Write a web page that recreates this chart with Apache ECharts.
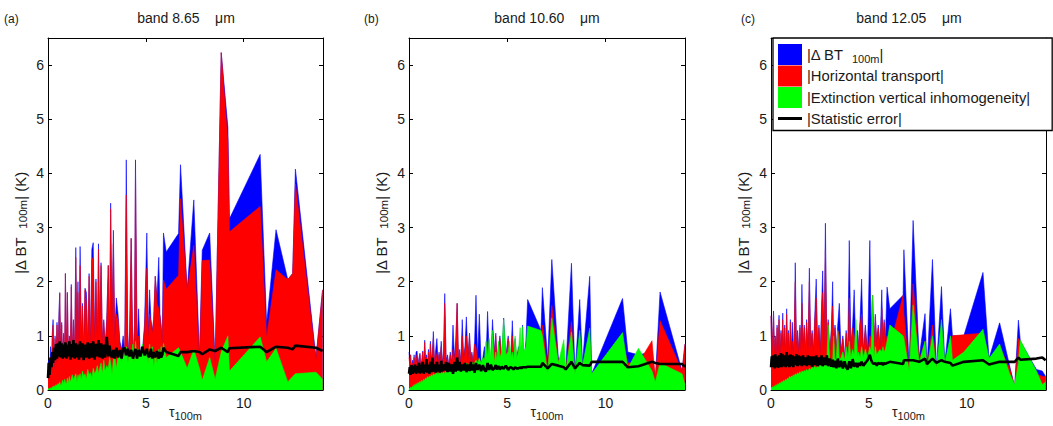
<!DOCTYPE html>
<html><head><meta charset="utf-8">
<script src="https://cdn.jsdelivr.net/npm/echarts/dist/echarts.min.js"></script>
<style>html,body{margin:0;padding:0;background:#fff}#c{width:1053px;height:426px}</style>
</head><body><div id="c"></div>
<script>
// ---------- DATA ----------
const xTicks = [0, 5, 10];
const yTicks = [0, 1, 2, 3, 4, 5, 6];
const panelLetters = ['(a)', '(b)', '(c)'];
const bandTitles = ['band 8.65\u00a0\u00a0\u00a0\u00a0μm', 'band 10.60\u00a0\u00a0\u00a0\u00a0μm', 'band 12.05\u00a0\u00a0\u00a0\u00a0μm'];
const seriesNames = ['dbt', 'ht', 'evi', 'se'];

// dense tau grid (shared by the three bands)
const tauDense = [
 0.00,0.04,0.08,0.13,0.18,0.22,0.26,0.31,0.36,0.41,
 0.46,0.51,0.56,0.60,0.65,0.70,0.75,0.80,0.85,0.89,
 0.94,0.99,1.04,1.09,1.14,1.19,1.24,1.30,1.36,1.42,
 1.48,1.53,1.58,1.64,1.70,1.76,1.82,1.89,1.96,2.03,
 2.10,2.17,2.24,2.31,2.38,2.45,2.52,2.58,2.64,2.71,
 2.78,2.85,2.92,3.00,3.08,3.15,3.20,3.27,3.34,3.41,
 3.49,3.58,3.67,3.76,3.84,3.92,4.00,4.08,4.17,4.25,
 4.34,4.42,4.47,4.55,4.63,4.72,4.82,4.93,5.05,5.12,
 5.19,5.26,5.33,5.40,5.48,5.57,5.66,5.72,5.78,5.84];

// ----- band 8.65 (a) -----
const dbtA = [
 0.45,0.55,0.3,0.8,0.35,1.05,1.3,0.4,1.0,0.5,
 1.25,0.55,1.45,1.8,0.6,1.25,0.55,1.05,0.6,2.15,
 0.6,1.8,0.65,1.0,0.6,1.95,0.7,1.3,0.65,2.63,
 0.8,2.0,0.7,2.65,0.9,1.6,0.7,1.88,1.8,0.75,
 2.15,0.8,2.6,2.72,0.9,2.05,0.8,2.7,1.1,2.35,
 0.9,1.3,0.8,1.3,2.3,0.9,3.45,1.2,2.95,1.0,
 1.7,1.4,0.9,0.75,1.0,0.7,4.25,0.6,1.1,2.8,
 0.5,1.2,4.25,0.8,1.5,0.55,0.7,1.2,2.9,1.0,
 1.85,1.3,1.1,1.3,2.1,1.7,2.45,1.4,1.2,0.9];
const htA = [
 0.45,0.2,0.25,0.6,0.3,1.0,1.2,0.35,0.95,0.45,
 1.2,0.5,1.2,1.78,0.55,1.2,0.5,1.0,0.55,2.15,
 0.55,1.8,0.6,0.95,0.55,1.9,0.65,1.25,0.6,2.45,
 0.7,1.8,0.65,2.3,0.85,1.55,0.6,1.85,1.6,0.7,
 2.1,0.75,2.4,2.45,0.85,2.0,0.75,2.6,1.0,2.3,
 0.85,1.25,0.75,1.25,2.3,0.85,3.35,1.1,2.7,0.9,
 1.4,1.3,0.85,0.7,0.6,0.65,3.6,0.55,1.0,2.8,
 0.45,1.1,4.0,0.75,1.0,0.5,0.65,1.1,2.25,0.95,
 1.4,1.25,1.05,1.3,2.1,1.6,1.5,1.35,1.1,0.85];
const eviA = [
 0.02,0.03,0.02,0.04,0.03,0.06,0.05,0.08,0.05,0.1,
 0.08,0.12,0.1,0.15,0.08,0.12,0.18,0.1,0.2,0.15,
 0.1,0.22,0.12,0.25,0.15,0.2,0.28,0.18,0.25,0.3,
 0.15,0.28,0.22,0.3,0.18,0.35,0.25,0.3,0.2,0.38,
 0.28,0.32,0.22,0.4,0.3,0.35,0.45,0.3,0.4,0.5,
 0.3,0.55,0.35,0.45,0.4,0.6,0.5,0.3,0.55,0.65,
 0.4,0.6,0.7,0.5,0.75,0.6,0.8,0.5,0.75,0.6,
 0.85,0.5,0.9,0.55,0.75,0.6,0.85,0.6,0.75,0.5,
 0.85,0.55,0.8,0.4,0.7,0.5,0.75,0.55,0.8,0.6];
const seA = [
 0.22,0.5,0.28,0.6,0.42,0.7,0.5,0.78,0.55,0.85,
 0.58,0.86,0.62,0.9,0.6,0.86,0.58,0.84,0.6,0.88,
 0.58,0.84,0.62,0.9,0.56,0.85,0.6,0.92,0.58,0.86,
 0.6,0.84,0.56,0.9,0.6,0.86,0.55,0.84,0.6,0.88,
 0.58,0.86,0.6,0.9,0.56,0.85,0.62,0.92,0.6,0.86,
 0.58,0.84,0.6,0.98,0.62,0.82,0.66,0.6,0.74,0.58,
 0.78,0.6,0.74,0.58,0.76,0.78,0.64,0.76,0.62,0.74,
 0.58,0.7,0.76,0.58,0.74,0.62,0.8,0.64,0.76,0.62,
 0.62,0.76,0.58,0.7,0.6,0.72,0.58,0.7,0.6,0.65];
const tauSA = [5.90,6.04,6.67,6.77,7.11,7.45,7.74,7.88,8.26,8.54,8.85,9.19,9.27,10.84,11.17,11.65,12.25,12.50,12.64,13.69,14.03];
const dbtSA = [2.9,2.55,2.89,4.16,1.84,3.51,0.6,2.58,2.9,0.5,6.23,4.85,3.16,4.35,1.23,2.96,2.04,2.15,4.08,0.6,1.85];
const htSA  = [2.03,1.86,2.12,3.53,1.84,2.67,0.55,2.39,2.4,0.45,6.23,4.6,2.92,3.39,0.98,2.22,2.04,2.15,3.81,0.55,1.85];
const eviSA = [0.86,0.6,0.78,0.7,0.4,0.75,0.4,0.18,0.6,0.2,0.7,1.0,0.35,0.98,0.52,0.77,0.15,0.25,0.3,0.33,0.2];
const seSA  = [0.78,0.7,0.63,0.7,0.7,0.72,0.7,0.66,0.75,0.72,0.78,0.7,0.77,0.8,0.7,0.8,0.78,0.75,0.82,0.78,0.72];

// ----- band 10.60 (b) -----
const dbtB = [
 0.7,0.5,0.65,0.4,0.55,0.45,0.65,0.4,0.7,0.72,
 0.45,0.6,0.68,0.4,0.55,0.72,0.45,0.92,0.5,0.65,
 0.45,0.75,0.5,0.9,0.55,0.7,1.08,0.5,0.75,0.95,
 0.5,0.7,0.55,0.9,0.5,0.7,1.78,0.55,0.65,0.45,
 0.7,0.5,1.2,0.6,0.9,1.6,0.55,0.75,0.5,1.3,
 0.6,0.8,1.35,0.6,1.05,0.55,0.7,0.5,0.9,1.75,
 0.6,1.4,0.5,0.6,0.8,0.55,1.45,0.7,0.5,1.3,
 0.7,1.05,0.6,0.75,1.0,0.55,1.33,0.6,1.0,0.55,
 0.65,1.28,0.6,0.95,0.55,0.8,0.6,0.5,1.2,0.5];
const htB = [
 0.6,0.45,0.65,0.35,0.5,0.4,0.6,0.35,0.65,0.5,
 0.4,0.55,0.65,0.35,0.5,0.7,0.4,0.88,0.45,0.6,
 0.4,0.7,0.45,0.85,0.5,0.65,0.95,0.45,0.7,0.6,
 0.45,0.65,0.5,0.8,0.45,0.65,1.6,0.5,0.6,0.4,
 0.65,0.45,0.75,0.55,0.85,1.6,0.5,0.7,0.45,1.0,
 0.55,0.75,1.0,0.55,1.0,0.5,0.65,0.45,0.85,0.8,
 0.55,0.6,0.45,0.55,0.6,0.5,0.9,0.65,0.45,1.0,
 0.65,1.0,0.55,0.7,0.95,0.5,0.8,0.55,0.95,0.5,
 0.6,1.0,0.55,0.9,0.5,0.75,0.55,0.45,0.75,0.45];
const eviB = [
 0.02,0.03,0.05,0.04,0.07,0.06,0.1,0.08,0.12,0.1,
 0.14,0.12,0.16,0.12,0.18,0.15,0.2,0.18,0.22,0.2,
 0.25,0.22,0.26,0.24,0.28,0.25,0.3,0.28,0.3,0.32,
 0.28,0.33,0.3,0.35,0.3,0.34,0.3,0.35,0.32,0.36,
 0.34,0.38,0.35,0.4,0.36,0.4,0.38,0.42,0.38,0.45,
 0.4,0.45,0.5,0.42,0.5,0.45,0.52,0.45,0.5,0.55,
 0.5,0.58,0.5,0.6,0.55,0.9,0.6,0.95,0.6,1.1,
 0.5,0.7,0.55,0.9,0.6,0.7,1.3,0.65,0.7,0.9,
 0.6,0.7,0.55,1.0,0.6,0.7,1.15,0.6,1.17,0.7];
const seB = [
 0.3,0.42,0.28,0.46,0.3,0.44,0.32,0.47,0.3,0.44,
 0.32,0.5,0.3,0.47,0.32,0.52,0.3,0.47,0.33,0.57,
 0.32,0.47,0.3,0.52,0.33,0.6,0.34,0.47,0.32,0.52,
 0.34,0.47,0.32,0.54,0.34,0.47,0.36,0.52,0.33,0.5,
 0.34,0.47,0.3,0.52,0.34,0.6,0.36,0.52,0.34,0.47,
 0.36,0.5,0.33,0.47,0.35,0.52,0.36,0.47,0.32,0.5,
 0.37,0.47,0.35,0.46,0.37,0.34,0.5,0.37,0.47,0.37,
 0.4,0.46,0.38,0.44,0.38,0.43,0.39,0.45,0.37,0.41,
 0.42,0.4,0.38,0.42,0.4,0.4,0.42,0.4,0.42,0.42];
const tauSB = [5.95,6.04,6.72,6.79,7.06,7.27,7.60,7.88,7.98,8.27,8.45,8.69,8.83,9.20,9.30,10.87,11.14,11.68,12.37,12.54,12.78,13.90,14.05];
const dbtSB = [0.9,1.67,1.1,1.89,0.55,2.41,0.6,0.5,0.4,2.34,0.3,1.67,0.5,2.1,0.3,1.69,0.7,0.65,0.7,0.2,1.81,0.35,0.85];
const htSB  = [0.4,0.5,0.9,1.2,0.4,1.56,0.55,0.45,0.35,1.26,0.15,0.8,0.45,0.9,0.3,0.9,0.5,0.5,0.91,0.2,1.28,0.35,0.85];
const eviSB = [0.8,1.18,1.1,1.0,0.3,1.33,0.5,0.93,0.35,1.07,0.3,1.1,0.45,1.14,0.3,1.06,0.4,0.77,0.35,0.15,0.5,0.3,0.1];
const seSB  = [0.42,0.43,0.43,0.5,0.4,0.48,0.45,0.42,0.38,0.52,0.4,0.5,0.46,0.45,0.52,0.52,0.42,0.44,0.52,0.5,0.48,0.48,0.43];

// ----- band 12.05 (c) -----
const dbtC = [
 1.37,0.6,1.0,1.46,0.7,1.0,0.6,1.2,0.7,1.38,
 0.6,1.1,0.8,1.42,0.65,1.2,0.6,1.5,0.7,1.1,
 0.6,1.3,0.7,1.25,0.65,1.1,2.35,0.8,1.1,0.7,
 1.2,0.75,1.95,0.8,1.2,0.7,1.3,0.75,2.25,0.8,
 1.1,0.7,1.4,2.05,0.8,1.2,0.7,1.5,2.2,0.8,
 3.08,0.9,1.3,0.7,1.1,2.0,0.8,1.2,0.75,1.2,
 1.6,0.7,1.0,0.6,1.1,0.7,2.76,0.8,1.2,1.85,
 0.7,1.1,0.8,1.3,2.05,0.7,1.2,0.7,2.76,1.0,
 1.75,0.8,1.4,0.9,1.2,0.8,1.85,0.9,1.3,0.9];
const htC = [
 1.37,0.55,0.95,1.4,0.65,0.95,0.55,1.15,0.65,1.3,
 0.55,1.05,0.75,1.3,0.6,1.15,0.55,1.4,0.65,1.05,
 0.55,1.25,0.65,0.9,0.6,1.05,2.0,0.75,1.05,0.65,
 1.15,0.7,1.6,0.75,1.15,0.65,1.25,0.7,2.0,0.75,
 1.05,0.65,1.3,1.7,0.75,1.15,0.65,1.3,1.8,0.75,
 2.6,0.85,1.25,0.65,1.05,1.55,0.75,1.15,0.7,1.1,
 1.0,0.65,0.95,0.55,1.05,0.65,1.7,0.75,1.15,1.0,
 0.65,1.05,0.75,1.2,1.4,0.65,1.15,0.65,1.0,0.95,
 1.75,0.75,1.35,0.85,1.15,0.75,1.5,0.85,1.25,0.85];
const eviC = [
 0.05,0.04,0.06,0.05,0.08,0.06,0.1,0.08,0.12,0.1,
 0.14,0.12,0.16,0.14,0.18,0.16,0.2,0.18,0.22,0.2,
 0.25,0.22,0.26,0.24,0.28,0.26,0.3,0.28,0.32,0.3,
 0.34,0.3,0.35,0.33,0.36,0.34,0.38,0.35,0.4,0.38,
 0.42,0.4,0.44,0.4,0.45,0.42,0.46,0.44,0.48,0.45,
 0.5,0.46,1.2,0.5,0.55,0.5,1.0,0.55,0.6,1.1,
 0.55,0.6,0.7,0.55,0.8,0.6,0.9,0.6,0.75,0.65,
 1.3,0.6,0.7,0.6,0.8,0.6,0.75,0.6,0.8,0.7,
 1.75,0.6,0.8,0.65,0.7,0.75,0.7,0.8,0.7,0.75];
const seC = [
 0.42,0.62,0.42,0.64,0.4,0.66,0.42,0.62,0.41,0.64,
 0.42,0.68,0.42,0.66,0.44,0.64,0.42,0.7,0.44,0.64,
 0.42,0.66,0.44,0.64,0.42,0.62,0.46,0.66,0.44,0.64,
 0.46,0.62,0.44,0.64,0.46,0.6,0.44,0.64,0.46,0.62,
 0.43,0.62,0.46,0.64,0.44,0.6,0.46,0.64,0.44,0.6,
 0.46,0.64,0.44,0.58,0.43,0.56,0.42,0.54,0.4,0.58,
 0.42,0.54,0.4,0.53,0.42,0.38,0.53,0.4,0.57,0.43,
 0.5,0.42,0.5,0.45,0.52,0.45,0.5,0.55,0.65,0.55,
 0.5,0.48,0.5,0.45,0.5,0.48,0.5,0.46,0.5,0.48];
const tauSC = [5.93,6.07,6.75,6.79,7.06,7.26,7.57,7.87,7.97,8.25,8.45,8.71,8.88,9.17,9.27,9.85,10.83,11.14,11.68,12.19,12.45,12.64,12.74,13.56,13.86,14.03];
const dbtSC = [1.9,1.5,1.75,2.59,0.4,3.13,0.6,1.41,0.4,2.41,0.4,1.91,0.5,1.5,1.0,1.0,2.17,0.58,1.24,0.45,0.06,1.29,0.9,0.38,0.35,0.25];
const htSC  = [1.0,0.8,1.75,1.4,0.37,1.96,0.55,0.9,0.35,1.2,0.4,1.0,0.45,0.9,1.0,1.02,1.05,0.55,0.8,0.4,0.06,0.95,0.9,0.3,0.25,0.25];
const eviSC = [0.9,1.2,1.0,0.95,0.35,1.57,0.5,0.9,0.4,1.0,0.4,1.3,0.5,1.0,0.55,0.7,1.12,0.58,0.85,0.3,0.1,0.5,0.92,0.35,0.1,0.15];
const seSC  = [0.5,0.52,0.48,0.55,0.55,0.55,0.52,0.58,0.48,0.58,0.5,0.55,0.52,0.5,0.45,0.52,0.55,0.47,0.52,0.52,0.52,0.6,0.56,0.58,0.6,0.55];

// ---------- CHART ----------
const FONT = '"Liberation Sans", Arial, sans-serif';
const TXT = '#1a1a1a';
const COLORS = {dbt: '#0000ff', ht: '#ff0000', evi: '#00ff00', se: '#000000'};
const XMAX = 14.05, YMAX = 6.5;

const panels = [
  {tau: tauDense.concat(tauSA), dbt: dbtA.concat(dbtSA), ht: htA.concat(htSA), evi: eviA.concat(eviSA), se: seA.concat(seSA)},
  {tau: tauDense.concat(tauSB), dbt: dbtB.concat(dbtSB), ht: htB.concat(htSB), evi: eviB.concat(eviSB), se: seB.concat(seSB)},
  {tau: tauDense.concat(tauSC), dbt: dbtC.concat(dbtSC), ht: htC.concat(htSC), evi: eviC.concat(eviSC), se: seC.concat(seSC)}
];
const grids = [
  {left: 48, top: 38, width: 275, height: 352},
  {left: 409, top: 38, width: 276, height: 352},
  {left: 771, top: 38, width: 275, height: 352}
];
const titleX = [186, 547, 909];
const letterX = [4, 364, 741];

function pairs(t, v) { return t.map((x, i) => [x, v[i]]); }

const richName = {
  n: {fontSize: 15, fontFamily: FONT, color: TXT, lineHeight: 18},
  s: {fontSize: 11.5, fontFamily: FONT, color: TXT, lineHeight: 4, verticalAlign: 'bottom'}
};
const richX = {
  n: {fontSize: 14, fontFamily: FONT, color: TXT, lineHeight: 18},
  s: {fontSize: 11, fontFamily: FONT, color: TXT, lineHeight: 1, verticalAlign: 'bottom'}
};

const xAxis = [], yAxis = [], series = [], graphic = [];
const axisLine = {show: true, onZero: false, lineStyle: {color: '#000', width: 1}};
const axisTick = {show: true, inside: true, length: 4, lineStyle: {color: '#000', width: 1}};

grids.forEach((g, i) => {
  g.outerBoundsMode = 'none';
  xAxis.push({
    gridIndex: i, type: 'value', position: 'bottom', min: 0, max: XMAX, interval: 5,
    axisLine, axisTick, splitLine: {show: false},
    axisLabel: {color: TXT, fontSize: 14, fontFamily: FONT, margin: 6, showMaxLabel: false,
      formatter: v => xTicks.includes(v) ? String(v) : ''},
    name: '{n|τ}{s|100m}', nameLocation: 'middle', nameGap: 13, nameMoveOverlap: false,
    nameTextStyle: {rich: richX}
  });
  xAxis.push({
    gridIndex: i, type: 'value', position: 'top', min: 0, max: XMAX, interval: 5,
    axisLine, axisTick, splitLine: {show: false}, axisLabel: {show: false}
  });
  yAxis.push({
    gridIndex: i, type: 'value', position: 'left', min: 0, max: YMAX, interval: 1,
    axisLine, axisTick, splitLine: {show: false},
    axisLabel: {color: TXT, fontSize: 14, fontFamily: FONT, margin: 4, showMaxLabel: false,
      formatter: v => yTicks.includes(v) ? String(v) : ''},
    name: '{n||Δ BT\u00a0\u00a0}{s|100m}{n||\u00a0(K)}', nameLocation: 'middle', nameGap: 19, nameRotate: 90,
    nameMoveOverlap: false,
    nameTextStyle: {rich: richName, padding: [0, 18, 0, 0]}
  });
  yAxis.push({
    gridIndex: i, type: 'value', position: 'right', min: 0, max: YMAX, interval: 1,
    axisLine, axisTick, splitLine: {show: false}, axisLabel: {show: false}
  });
  const p = panels[i];
  seriesNames.forEach((nm, k) => {
    const s = {
      name: nm, type: 'line', xAxisIndex: 2 * i, yAxisIndex: 2 * i,
      data: pairs(p.tau, p[nm]), symbol: 'none', showSymbol: false, smooth: false,
      itemStyle: {color: COLORS[nm]}, z: 2 + k
    };
    if (nm === 'se') {
      s.lineStyle = {color: '#000', width: 2.6};
    } else {
      s.lineStyle = {color: COLORS[nm], width: 0.6};
      s.areaStyle = {color: COLORS[nm], opacity: 1};
    }
    series.push(s);
  });
  graphic.push({type: 'text', x: titleX[i], y: 18, style: {text: bandTitles[i], fontSize: 14, fontFamily: FONT, fill: TXT, align: 'center', verticalAlign: 'middle'}});
  graphic.push({type: 'text', x: letterX[i], y: 19, style: {text: panelLetters[i], fontSize: 12, fontFamily: FONT, fill: TXT, align: 'left', verticalAlign: 'middle'}});
});

const legendText = {
  dbt: '{n||Δ BT\u00a0\u00a0}{s|100m}{n||}',
  ht: '{n||Horizontal transport|}',
  evi: '{n||Extinction vertical inhomogeneity|}',
  se: '{n||Statistic error|}'
};

const option = {
  animation: false,
  backgroundColor: '#fff',
  grid: grids,
  xAxis, yAxis, series, graphic,
  legend: {
    show: true, orient: 'vertical', left: 773, top: 38,
    padding: [6, 22, 2, 5], itemGap: 0.5, itemWidth: 24, itemHeight: 21,
    backgroundColor: '#fff', borderColor: '#000', borderWidth: 1.3, borderRadius: 0,
    selectedMode: false, z: 10,
    data: [
      {name: 'dbt', icon: 'rect'},
      {name: 'ht', icon: 'rect'},
      {name: 'evi', icon: 'rect'},
      {name: 'se', icon: 'path://M0,0H24V3H0Z'}
    ],
    formatter: n => legendText[n],
    textStyle: {fontSize: 14.8, fontFamily: FONT, color: TXT, lineHeight: 20,
      rich: {
        n: {fontSize: 14.8, fontFamily: FONT, color: TXT, lineHeight: 20},
        s: {fontSize: 11, fontFamily: FONT, color: TXT, lineHeight: 4, verticalAlign: 'bottom'}
      }}
  }
};

const chart = echarts.init(document.getElementById('c'), null, {renderer: 'svg'});
chart.setOption(option);
</script></body></html>
